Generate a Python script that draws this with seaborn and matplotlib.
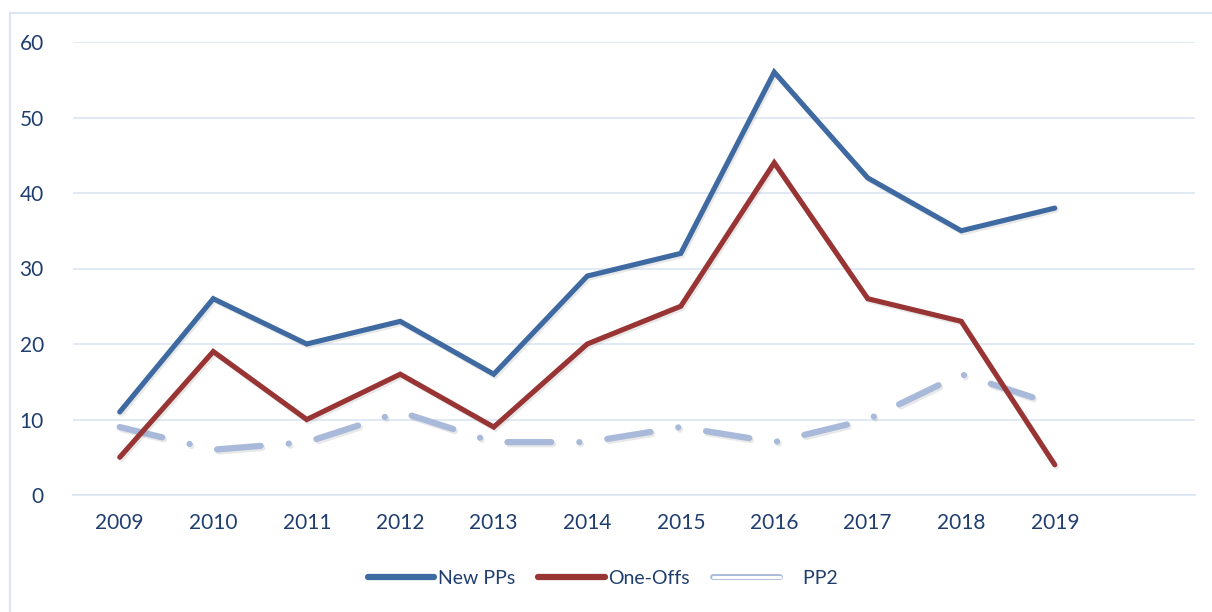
import seaborn as sns
import numpy as np
import pandas as pd
import matplotlib.pyplot as plt
from matplotlib.lines import Line2D
import matplotlib.patheffects as pe

years = ['2009', '2010', '2011', '2012', '2013', '2014', '2015', '2016', '2017', '2018', '2019']
new_pps = [11, 26, 20, 23, 16, 29, 32, 56, 42, 35, 38]
one_offs = [5, 19, 10, 16, 9, 20, 25, 44, 26, 23, 4]
pp2 = [9, 6, 7, 11, 7, 7, 9, 7, 10, 16, 12]

blue = '#3e6aa1'
red = '#983434'
light = '#a8b9da'
grid_c = '#dbe5f3'
text_c = '#1f3e6f'

sns.set_theme(style='white')
plt.rcParams['font.family'] = ['Lato', 'DejaVu Sans']

df = pd.DataFrame({'x': np.arange(len(years)), 'New PPs': new_pps,
                   'One-Offs': one_offs, 'PP2': pp2})

fig = plt.figure(figsize=(12.12, 6.12), dpi=100)
ax = fig.add_axes([73 / 1212, 1 - 495 / 612, (1195 - 73) / 1212, (495 - 42) / 612])

shadow = [pe.SimpleLineShadow(offset=(1.2, -1.5), shadow_color='#999999', alpha=0.22), pe.Normal()]

sns.lineplot(data=df, x='x', y='PP2', ax=ax, color=light, linewidth=4.5,
             linestyle=(0, (7, 4.5, 0.01, 4.5)), dash_capstyle='round',
             path_effects=shadow)
sns.lineplot(data=df, x='x', y='One-Offs', ax=ax, color=red, linewidth=3.7,
             solid_capstyle='round', solid_joinstyle='miter', path_effects=shadow)
sns.lineplot(data=df, x='x', y='New PPs', ax=ax, color=blue, linewidth=3.7,
             solid_capstyle='round', solid_joinstyle='miter', path_effects=shadow)

ax.set_xlim(-0.5, 11.5)
ax.set_ylim(0, 60)
ax.set_yticks(range(0, 61, 10))
ax.set_xticks(range(len(years)))
ax.set_xticklabels(years)
ax.set_xticks(np.arange(-0.5, 12, 1), minor=True)
ax.tick_params(axis='x', which='major', length=0, pad=13, labelsize=15, labelcolor=text_c)
ax.tick_params(axis='x', which='minor', length=7, width=1.2, color=grid_c, direction='out')
ax.tick_params(axis='y', length=0, pad=21, labelsize=15, labelcolor=text_c)
ax.set_xlabel('')
ax.set_ylabel('')
ax.yaxis.grid(True, color=grid_c, linewidth=1.2)
ax.set_axisbelow(True)
for s in ['top', 'right', 'left']:
    ax.spines[s].set_visible(False)
ax.spines['bottom'].set_color(grid_c)
ax.spines['bottom'].set_linewidth(1.2)

handles = [
    Line2D([], [], color=blue, linewidth=4.5, solid_capstyle='round'),
    Line2D([], [], color=red, linewidth=4.5, solid_capstyle='round'),
    Line2D([], [], color='white', linewidth=2.2, solid_capstyle='round',
           path_effects=[pe.Stroke(linewidth=4.2, foreground=light), pe.Normal()]),
]
leg = fig.legend(handles, ['New PPs', 'One-Offs', '    PP2'], loc='center',
                 bbox_to_anchor=(603 / 1212, 1 - 578 / 612), ncol=3, frameon=False,
                 fontsize=14, handlelength=3.4, handletextpad=0.2, columnspacing=1.2)
for t in leg.get_texts():
    t.set_color(text_c)

# outer frame (left and top edges only)
fig.add_artist(Line2D([9.5 / 1212, 9.5 / 1212], [0, 1 - 13 / 612], color=grid_c,
                      linewidth=1.5, transform=fig.transFigure))
fig.add_artist(Line2D([9.5 / 1212, 1], [1 - 13 / 612, 1 - 13 / 612], color=grid_c,
                      linewidth=1.5, transform=fig.transFigure))

fig.savefig('out.png', dpi=100)
